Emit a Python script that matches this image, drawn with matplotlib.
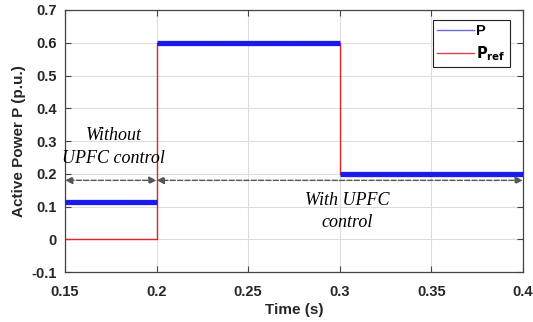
import matplotlib
matplotlib.use('Agg')
import matplotlib.pyplot as plt

# step data
t_steps = [0.15, 0.2, 0.2, 0.3, 0.3, 0.4]
p_meas = [0.115, 0.115, 0.60, 0.60, 0.20, 0.20]
p_ref = [0.0, 0.0, 0.60, 0.60, 0.20, 0.20]

xticks = [0.15, 0.2, 0.25, 0.3, 0.35, 0.4]
xtick_labels = ['0.15', '0.2', '0.25', '0.3', '0.35', '0.4']
yticks = [-0.1, 0, 0.1, 0.2, 0.3, 0.4, 0.5, 0.6, 0.7]
ytick_labels = ['-0.1', '0', '0.1', '0.2', '0.3', '0.4', '0.5', '0.6', '0.7']

plt.rcParams['font.family'] = ['Liberation Sans', 'DejaVu Sans']

fig = plt.figure(figsize=(5.33, 3.22), dpi=100)
ax = fig.add_axes([0.122, 0.155, 0.859, 0.814])

# Pref underneath, P thick on top (ripple makes it a band)
ax.plot(t_steps, p_ref, color='#e8202a', lw=1.0, zorder=2)
for i in (0, 2, 4):
    ax.plot(t_steps[i:i + 2], p_meas[i:i + 2], color='#1a1aff', lw=3.8,
            solid_capstyle='butt', zorder=3)
    ax.plot(t_steps[i:i + 2], p_meas[i:i + 2], color='#22228a', lw=1.0,
            ls=(0, (1.5, 1.5)), zorder=4)
ax.plot([], [], color='#6a6ae0', lw=1, label='P')
ax.plot([], [], color='#e04048', lw=1, label=r'$\mathbf{P_{ref}}$')

# annotations
arrow_y = 0.18
ax.annotate('', xy=(0.15, arrow_y), xytext=(0.2, arrow_y),
            arrowprops=dict(arrowstyle='<|-|>', ls='--', color='#555555', lw=1,
                            mutation_scale=11, shrinkA=0, shrinkB=0))
ax.annotate('', xy=(0.2, arrow_y), xytext=(0.4, arrow_y),
            arrowprops=dict(arrowstyle='<|-|>', ls='--', color='#555555', lw=1,
                            mutation_scale=11, shrinkA=0, shrinkB=0))
serif = dict(family='Liberation Serif', style='italic', fontsize=13, ha='center', va='center')
ax.text(0.1765, 0.318, 'Without', **serif)
ax.text(0.1765, 0.248, 'UPFC control', **serif)
ax.text(0.304, 0.119, 'With UPFC', **serif)
ax.text(0.304, 0.052, 'control', **serif)

ax.set_xlim(0.15, 0.4)
ax.set_ylim(-0.1, 0.7)
ax.set_xticks(xticks)
ax.set_xticklabels(xtick_labels)
ax.set_yticks(yticks)
ax.set_yticklabels(ytick_labels)
ax.tick_params(direction='in', top=True, right=True, labelsize=10.5, length=4,
               color='#444444')
ax.tick_params(axis='x', pad=9)
ax.tick_params(axis='y', pad=6)
for lbl in ax.get_xticklabels() + ax.get_yticklabels():
    lbl.set_fontweight('bold')
    lbl.set_color('#262626')
ax.grid(True, color='#dddddd', lw=0.8)
ax.set_axisbelow(True)
for s in ax.spines.values():
    s.set_color('#444444')
    s.set_linewidth(0.9)

ax.set_xlabel('Time (s)', fontsize=11, fontweight='bold', color='#262626', labelpad=3)
ax.set_ylabel('Active Power P (p.u.)', fontsize=11, fontweight='bold', color='#262626', labelpad=4)

leg = ax.legend(loc='upper right', handlelength=2.5, handletextpad=0.15,
                borderpad=0.3, labelspacing=0.4, fancybox=False, framealpha=1,
                edgecolor='#222222', prop={'weight': 'bold', 'size': 10.5},
                bbox_to_anchor=(0.987, 0.99))
leg.get_frame().set_linewidth(0.8)

fig.savefig('out.png', dpi=100)
